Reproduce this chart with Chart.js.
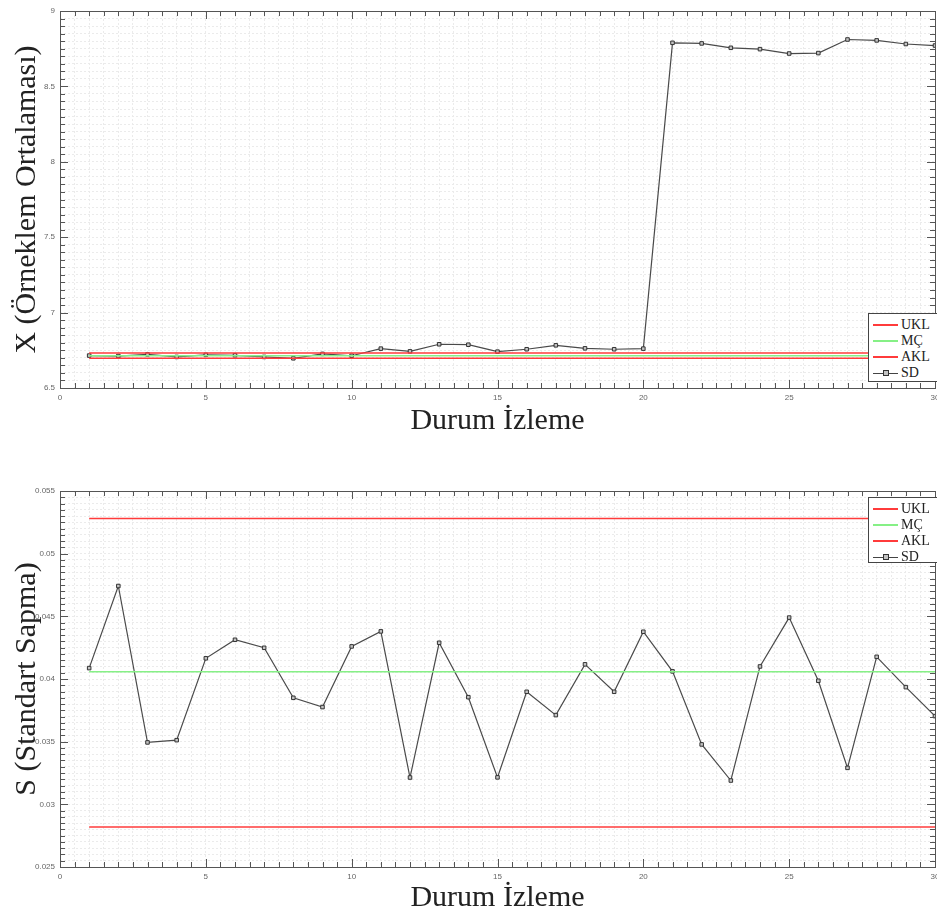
<!DOCTYPE html>
<html>
<head>
<meta charset="utf-8">
<script src="https://cdn.jsdelivr.net/npm/chart.js@4/dist/chart.umd.min.js"></script>
<style>
  html, body { margin: 0; padding: 0; background: #fff; overflow: hidden; width: 937px; height: 919px; }
  .wrap { position: absolute; left: 0; }
  .legend {
    position: absolute; background: #fff; border: 1px solid #444;
    font-family: "Liberation Serif", "DejaVu Serif", serif; font-size: 14px; color: #222;
    padding: 3px 0 2px 4px; box-sizing: border-box; width: 70px;
  }
  .legend .row { height: 16px; line-height: 16px; white-space: nowrap; display: flex; align-items: center; }
  .legend .swatch { display: inline-block; width: 25px; height: 2px; margin-right: 3px; position: relative; }
  .legend .swatch.sd { height: 1px; }
  .legend .swatch.sd::after {
    content: ""; position: absolute; left: 10px; top: -3px; width: 4px; height: 4px;
    border: 1px solid #333; background: #c4c4c4;
  }
</style>
</head>
<body>
<div class="wrap" style="top:0"><canvas id="xbarChart" width="980" height="460"></canvas></div>
<div class="wrap" style="top:460px"><canvas id="sChart" width="980" height="459"></canvas></div>

<div class="legend" style="left:868px; top:313px; height:69px">
  <div class="row"><span class="swatch" style="background:#ff3b3b"></span>UKL</div>
  <div class="row"><span class="swatch" style="background:#86f086"></span>MÇ</div>
  <div class="row"><span class="swatch" style="background:#ff3b3b"></span>AKL</div>
  <div class="row"><span class="swatch sd" style="background:#444"></span>SD</div>
</div>
<div class="legend" style="left:868px; top:497px; height:66px">
  <div class="row"><span class="swatch" style="background:#ff3b3b"></span>UKL</div>
  <div class="row"><span class="swatch" style="background:#86f086"></span>MÇ</div>
  <div class="row"><span class="swatch" style="background:#ff3b3b"></span>AKL</div>
  <div class="row"><span class="swatch sd" style="background:#444"></span>SD</div>
</div>

<script>
// durum izleme (örnek no)
const durum = [1, 2, 3, 4, 5, 6, 7, 8, 9, 10, 11, 12, 13, 14, 15,
  16, 17, 18, 19, 20, 21, 22, 23, 24, 25, 26, 27, 28, 29, 30];

// X çizelgesi (örneklem ortalaması)
const xOrt = [6.715, 6.712, 6.723, 6.706, 6.720, 6.717, 6.706, 6.697, 6.726, 6.714,
  6.761, 6.743, 6.790, 6.787, 6.741, 6.757, 6.783, 6.763, 6.757, 6.761,
  8.789, 8.785, 8.756, 8.747, 8.718, 8.721, 8.811, 8.805, 8.781, 8.771];
const xUKL = 6.732;
const xMC = 6.714;
const xAKL = 6.697;

// S çizelgesi (standart sapma)
const sSap = [0.04087, 0.04742, 0.03494, 0.03512, 0.04165, 0.04313, 0.04249, 0.03850, 0.03776, 0.04260,
  0.04380, 0.03214, 0.04289, 0.03855, 0.03215, 0.03898, 0.03712, 0.04117, 0.03898, 0.04377,
  0.04061, 0.03478, 0.03190, 0.04100, 0.04490, 0.03986, 0.03291, 0.04177, 0.03935, 0.03704];
const sUKL = 0.0528;
const sMC = 0.04058;
const sAKL = 0.02819;

// eksen aralıkları
const xEkseni = { min: 0, max: 30, step: 0.5, label: 5 };
const xOrtEkseni = { min: 6.5, max: 9, step: 0.05, label: 0.5 };
const sEkseni = { min: 0.025, max: 0.055, step: 0.0005, label: 0.005 };

const RED = '#ff3b3b';
const GREEN = '#86f086';

function isMajor(v, every) {
  const r = v / every;
  return Math.abs(r - Math.round(r)) < 1e-6;
}

function fmt(v) {
  return String(parseFloat(v.toFixed(6)));
}

// MATLAB tarzı çerçeve ve içe dönük tik işaretleri
const framePlugin = {
  id: 'frame',
  afterDatasetsDraw(chart, args, opts) {
    const { ctx, chartArea: a, scales } = chart;
    ctx.save();
    ctx.strokeStyle = '#555';
    ctx.lineWidth = 1;
    const xs = scales.x, ys = scales.y;
    ctx.beginPath();
    xs.ticks.forEach((t, i) => {
      const px = Math.round(xs.getPixelForTick(i)) + 0.5;
      const len = isMajor(t.value, opts.xMajor) ? 8 : 5;
      ctx.moveTo(px, a.bottom); ctx.lineTo(px, a.bottom - len);
      ctx.moveTo(px, a.top); ctx.lineTo(px, a.top + len);
    });
    ys.ticks.forEach((t, i) => {
      const py = Math.round(ys.getPixelForTick(i)) + 0.5;
      const len = isMajor(t.value, opts.yMajor) ? 8 : 5;
      ctx.moveTo(a.left, py); ctx.lineTo(a.left + len, py);
      ctx.moveTo(a.right, py); ctx.lineTo(a.right - len, py);
    });
    ctx.stroke();
    ctx.strokeRect(Math.round(a.left) + 0.5, Math.round(a.top) + 0.5,
      Math.round(a.right - a.left), Math.round(a.bottom - a.top));
    ctx.restore();
  }
};

function limitLine(label, value, color) {
  return {
    label: label,
    data: durum.map(d => ({ x: d, y: value })),
    borderColor: color,
    borderWidth: 1.5,
    pointRadius: 0,
    fill: false
  };
}

function buildChart(canvasId, values, ukl, mc, akl, yAxis, yTitle, pad, xAxisHeight, titlePadBottom) {
  const ctx = document.getElementById(canvasId).getContext('2d');
  return new Chart(ctx, {
    type: 'line',
    data: {
      datasets: [
        limitLine('UKL', ukl, RED),
        limitLine('MÇ', mc, GREEN),
        limitLine('AKL', akl, RED),
        {
          label: 'SD',
          data: durum.map((d, i) => ({ x: d, y: values[i] })),
          borderColor: '#4a4a4a',
          borderWidth: 1.2,
          pointStyle: 'rect',
          pointRadius: 2.5,
          pointBorderWidth: 1,
          pointBorderColor: '#333',
          pointBackgroundColor: '#c4c4c4',
          tension: 0
        }
      ]
    },
    options: {
      responsive: false,
      animation: false,
      layout: { padding: pad },
      plugins: {
        legend: { display: false },
        tooltip: { enabled: false },
        frame: { xMajor: xEkseni.label, yMajor: yAxis.label }
      },
      scales: {
        x: {
          type: 'linear',
          min: xEkseni.min,
          max: xEkseni.max,
          afterFit: (s) => { s.height = xAxisHeight; },
          grid: { color: '#ebebeb', drawTicks: false },
          border: { display: false, dash: [2, 2] },
          ticks: {
            stepSize: xEkseni.step,
            autoSkip: false,
            maxRotation: 0,
            padding: 5,
            color: '#666',
            font: { family: 'Arial, "Liberation Sans", sans-serif', size: 8 },
            callback: (v) => isMajor(v, xEkseni.label) ? fmt(v) : ''
          },
          title: {
            display: true,
            text: 'Durum İzleme',
            color: '#222',
            padding: { top: 0, bottom: titlePadBottom },
            font: { family: '"Liberation Serif", "DejaVu Serif", serif', size: 30 }
          }
        },
        y: {
          type: 'linear',
          min: yAxis.min,
          max: yAxis.max,
          afterFit: (s) => { s.width = 60; },
          grid: { color: '#ebebeb', drawTicks: false },
          border: { display: false, dash: [2, 2] },
          ticks: {
            stepSize: yAxis.step,
            autoSkip: false,
            padding: 5,
            color: '#666',
            font: { family: 'Arial, "Liberation Sans", sans-serif', size: 8 },
            callback: (v) => isMajor(v, yAxis.label) ? fmt(v) : ''
          },
          title: {
            display: true,
            text: yTitle,
            color: '#222',
            padding: { top: 9, bottom: 0 },
            font: { family: '"Liberation Serif", "DejaVu Serif", serif', size: 30 }
          }
        }
      }
    },
    plugins: [framePlugin]
  });
}

buildChart('xbarChart', xOrt, xUKL, xMC, xAKL, xOrtEkseni, 'X (Örneklem Ortalaması)',
  { top: 11, right: 45, bottom: 0, left: 0 }, 72, 21);
buildChart('sChart', sSap, sUKL, sMC, sAKL, sEkseni, 'S (Standart Sapma)',
  { top: 31, right: 45, bottom: 0, left: 0 }, 52, 3);
</script>
</body>
</html>
